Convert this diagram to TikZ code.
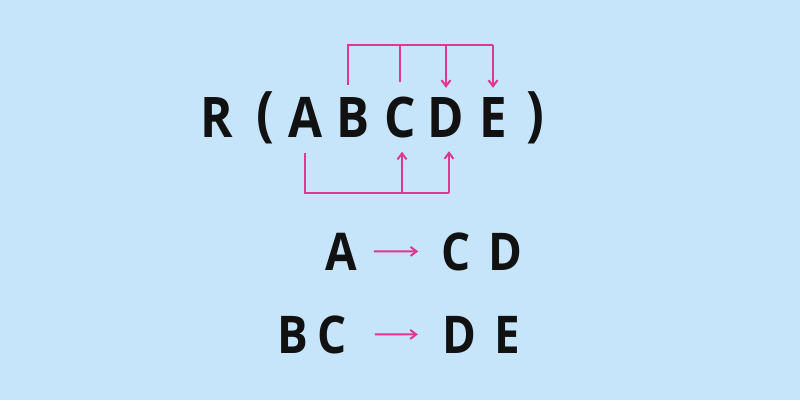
\documentclass[tikz,border=0pt]{standalone}
\usepackage{fontspec}
\setmainfont{Open Sans}[FakeStretch=0.88]
\usepackage{tikz}
\usetikzlibrary{arrows.meta}
\usetikzlibrary{positioning}
\definecolor{skyblue}{RGB}{198,228,250}
\definecolor{fdpink}{RGB}{225,55,140}
\definecolor{ink}{RGB}{17,17,17}

\begin{document}
\begin{tikzpicture}[x=1pt, y=1pt, every node/.style={inner sep=0pt, text=ink},
	big/.style={anchor=base, font=\bfseries\fontsize{56}{60}\selectfont},
	paren/.style={anchor=base, font=\bfseries\fontsize{60}{64}\selectfont},
	small/.style={anchor=base, font=\bfseries\fontsize{52}{56}\selectfont},
	fd/.style={draw=fdpink, line width=2pt},
	fdarrow/.style={fd, -{Straight Barb[length=6pt, width=9pt]}}]
	\fill[skyblue] (0,0) rectangle (800,400);
	\useasboundingbox (0,0) rectangle (800,400);
	% relation R(ABCDE)
	\node[big] (R) at (217,263) {R};
	\node[paren] (lp) at (265,266) {(};
	\node[big] (A) at (305,263) {A};
	\node[big] (B) at (353,263) {B};
	\node[big] (C) at (400,263) {C};
	\node[big] (D) at (446,263) {D};
	\node[big] (E) at (493,263) {E};
	\node[paren] (rp) at (535,266) {)};
	\coordinate (top) at (0,355);
	\coordinate (bot) at (0,207);
	% BC -> DE
	\draw[fd] ([xshift=-5pt, yshift=12pt]B.north) |- (E.north |- top);
	\draw[fd] (C.north |- top) -- ([yshift=14pt]C.north);
	\draw[fdarrow] (D.north |- top) -- ([yshift=9pt]D.north);
	\draw[fdarrow] (E.north |- top) -- ([yshift=9pt]E.north);
	% A -> CD
	\draw[fd] ([yshift=-16pt]A.south) |- ([xshift=3pt]D.south |- bot);
	\draw[fdarrow] ([xshift=2pt]C.south |- bot) -- ([xshift=2pt, yshift=-14pt]C.south);
	\draw[fdarrow] ([xshift=3pt]D.south |- bot) -- ([xshift=3pt, yshift=-14pt]D.south);
	% dependencies
	\node[small] (A1) at (341,130) {A};
	\node[small] (C1) at (456,130) {C};
	\node[small] (D1) at (505,130) {D};
	\node[small] (B2) at (293,47) {B};
	\node[small] (C2) at (332,47) {C};
	\node[small] (D2) at (459,47) {D};
	\node[small] (E2) at (507,47) {E};
	\draw[fdarrow, shorten <=17pt, shorten >=23pt] (A1) -- (C1);
	\draw[fdarrow, shorten <=28pt, shorten >=24pt] (C2) -- (D2);
\end{tikzpicture}
\end{document}
